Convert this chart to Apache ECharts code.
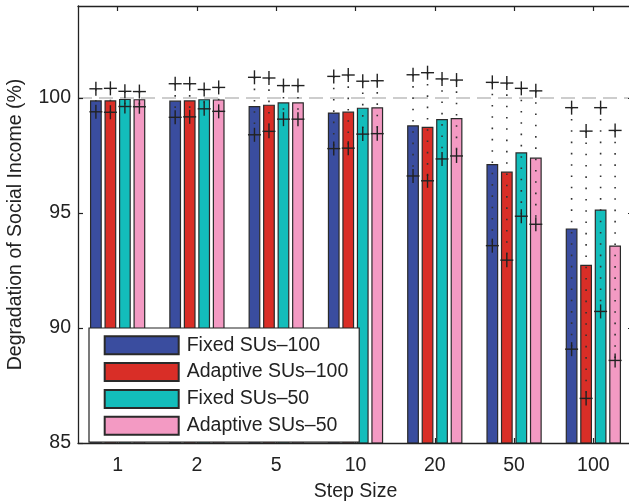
<!DOCTYPE html>
<html>
<head>
<meta charset="utf-8">
<script src="https://cdn.jsdelivr.net/npm/echarts@6/dist/echarts.min.js"></script>
<style>
html,body{margin:0;padding:0;background:#fff;}
#chart{width:629px;height:503px;}
</style>
</head>
<body>
<div id="chart"></div>
<script>
// ---- data ----
const categories = ['1', '2', '5', '10', '20', '50', '100'];
const seriesNames = ['Fixed SUs\u2013100', 'Adaptive SUs\u2013100', 'Fixed SUs\u201350', 'Adaptive SUs\u201350'];
const fixed100Mean    = [99.90, 99.89, 99.65, 99.37, 98.81, 97.13, 94.33];
const fixed100Err     = [0.50, 0.73, 1.25, 1.57, 2.20, 3.55, 5.25];
const adaptive100Mean = [99.90, 99.90, 99.71, 99.41, 98.75, 96.80, 92.75];
const adaptive100Err  = [0.52, 0.72, 1.16, 1.59, 2.35, 3.85, 5.81];
const fixed50Mean     = [99.96, 99.95, 99.81, 99.58, 99.09, 97.64, 95.15];
const fixed50Err      = [0.33, 0.42, 0.73, 1.15, 1.74, 2.78, 4.43];
const adaptive50Mean  = [99.95, 99.94, 99.81, 99.60, 99.13, 97.41, 93.59];
const adaptive50Err   = [0.33, 0.52, 0.73, 1.15, 1.65, 2.90, 5.00];
const yTicks = [85, 90, 95, 100];
const referenceLevel = 100;

// ---- styles ----
const colors = ['#3a4d9f', '#d92e27', '#13bdbb', '#f39ac3'];
const means = [fixed100Mean, adaptive100Mean, fixed50Mean, adaptive50Mean];
const errs = [fixed100Err, adaptive100Err, fixed50Err, adaptive50Err];
const FONT = 'Liberation Sans, Arial, Helvetica, sans-serif';
const FS = 19.5;
const TXT = '#222';
const BAR_W = 11.8;
const PITCH = 14.5;

const chart = echarts.init(document.getElementById('chart'), null, {renderer: 'canvas'});

const barSeries = seriesNames.map((name, i) => ({
  name: name,
  type: 'bar',
  xAxisIndex: 0,
  yAxisIndex: 0,
  barWidth: BAR_W,
  barGap: ((PITCH - BAR_W) / BAR_W * 100).toFixed(1) + '%',
  data: means[i],
  itemStyle: {color: colors[i], borderColor: '#2a2a2a', borderWidth: 1.2},
  emphasis: {disabled: true},
  silent: true,
  z: 2,
  markLine: i === 0 ? {
    silent: true,
    symbol: ['none', 'none'],
    label: {show: false},
    lineStyle: {type: [14, 7], color: '#cdcdcd', width: 2},
    data: [{yAxis: referenceLevel}],
    z: 1
  } : undefined
}));

const errData = [];
for (let s = 0; s < 4; s++) {
  for (let c = 0; c < categories.length; c++) {
    errData.push([c, means[s][c], errs[s][c], s]);
  }
}

const errSeries = {
  type: 'custom',
  name: 'err',
  xAxisIndex: 0,
  yAxisIndex: 0,
  silent: true,
  z: 5,
  data: errData,
  encode: {x: 0, y: 1},
  renderItem: function (params, api) {
    const c = api.value(0), m = api.value(1), e = api.value(2), s = api.value(3);
    const top = api.coord([c, m + e]);
    const bot = api.coord([c, m - e]);
    const x = top[0] + (s - 1.5) * PITCH;
    const st = {stroke: '#222', lineWidth: 1.4};
    const cross = (y) => [
      {type: 'line', shape: {x1: x - 6.5, y1: y, x2: x + 6.5, y2: y}, style: st},
      {type: 'line', shape: {x1: x, y1: y - 7, x2: x, y2: y + 7}, style: st}
    ];
    return {
      type: 'group',
      children: [
        {type: 'line', shape: {x1: x, y1: top[1], x2: x, y2: bot[1]},
         style: {stroke: '#333', lineWidth: 1.6, lineDash: [1.6, 9.7]}}
      ].concat(cross(top[1]), cross(bot[1]))
    };
  }
};

const option = {
  animation: false,
  backgroundColor: '#fff',
  textStyle: {fontFamily: FONT, color: TXT},
  grid: {left: 78, right: -4, top: 6, bottom: 60, containLabel: false, outerBoundsMode: 'none'},
  legend: {
    orient: 'vertical',
    left: 89,
    top: 328,
    data: seriesNames,
    icon: 'rect',
    itemWidth: 74,
    itemHeight: 18,
    itemGap: 6.8,
    padding: [7.3, 11, 6.5, 14.7],
    backgroundColor: '#fff',
    borderColor: '#222',
    borderWidth: 1.2,
    borderRadius: 0,
    selectedMode: false,
    textStyle: {fontFamily: FONT, fontSize: FS, color: TXT, lineHeight: 18, padding: [0, 0, 0, 3]},
    z: 10
  },
  xAxis: [{
    type: 'category',
    data: categories,
    position: 'bottom',
    boundaryGap: true,
    name: 'Step Size',
    nameLocation: 'middle',
    nameGap: 39,
    nameTextStyle: {fontFamily: FONT, fontSize: FS, color: TXT},
    axisLine: {show: true, onZero: false, lineStyle: {color: '#222', width: 1.3}},
    axisTick: {show: true, inside: true, length: 5, alignWithLabel: true, lineStyle: {color: '#222', width: 1.2}},
    axisLabel: {fontFamily: FONT, fontSize: FS, color: TXT, margin: 13},
    splitLine: {show: false},
    z: 6
  }, {
    type: 'category',
    data: categories,
    position: 'top',
    boundaryGap: true,
    axisLine: {show: true, onZero: false, lineStyle: {color: '#222', width: 1.3}},
    axisTick: {show: true, inside: true, length: 5, alignWithLabel: true, lineStyle: {color: '#222', width: 1.2}},
    axisLabel: {show: false},
    splitLine: {show: false},
    z: 6
  }],
  yAxis: [{
    type: 'value',
    min: 85,
    max: 104,
    interval: 5,
    position: 'left',
    name: 'Degradation of Social Income (%)',
    nameLocation: 'middle',
    nameGap: 52,
    nameTextStyle: {fontFamily: FONT, fontSize: FS, color: TXT},
    axisLine: {show: true, onZero: false, lineStyle: {color: '#222', width: 1.3}},
    axisTick: {show: true, inside: true, length: 5, lineStyle: {color: '#222', width: 1.2}},
    axisLabel: {
      fontFamily: FONT, fontSize: FS, color: TXT, margin: 7, showMaxLabel: false,
      formatter: v => (yTicks.indexOf(v) >= 0 ? String(v) : '')
    },
    splitLine: {show: false},
    z: 6
  }, {
    type: 'value',
    min: 85,
    max: 104,
    interval: 5,
    position: 'right',
    axisLine: {show: true, onZero: false, lineStyle: {color: '#222', width: 1.3}},
    axisTick: {show: true, inside: true, length: 5, lineStyle: {color: '#222', width: 1.2}},
    axisLabel: {show: false},
    splitLine: {show: false},
    z: 6
  }],
  series: barSeries.concat([errSeries])
};

chart.setOption(option);
</script>
</body>
</html>
